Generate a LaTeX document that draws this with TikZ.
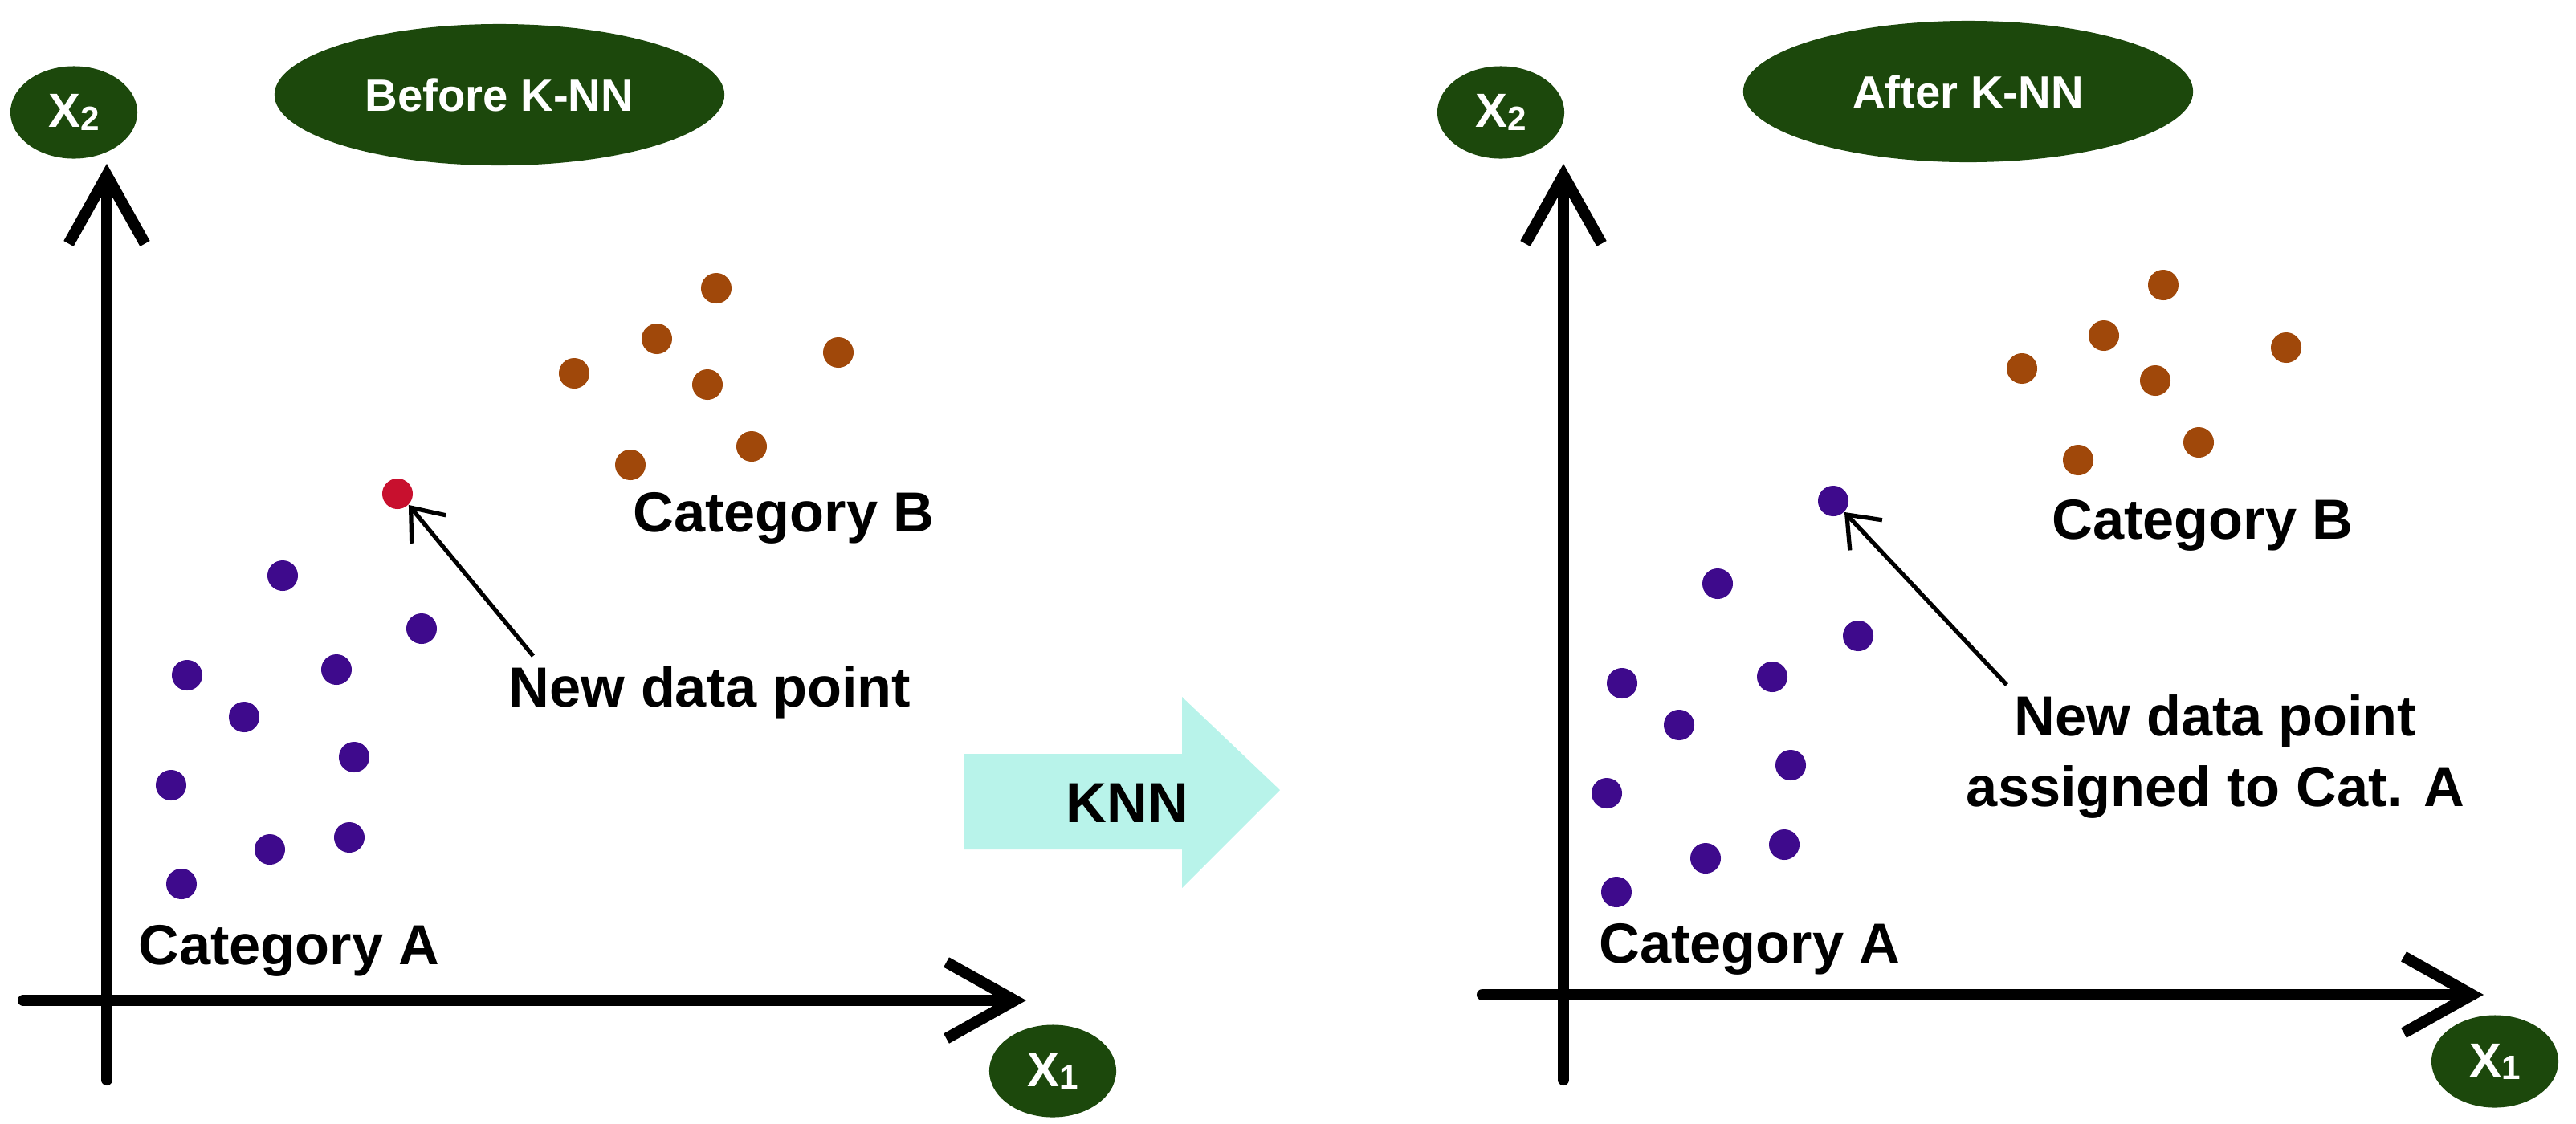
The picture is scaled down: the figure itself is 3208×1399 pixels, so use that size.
\documentclass[tikz,border=0pt]{standalone}
\usepackage{fontspec}
\setmainfont{Liberation Sans}
\usetikzlibrary{shapes.geometric,arrows.meta}
\definecolor{dg}{RGB}{28,72,12}
\definecolor{br}{RGB}{160,72,10}
\definecolor{pu}{RGB}{62,10,140}
\definecolor{rd}{RGB}{200,16,46}
\definecolor{cy}{RGB}{184,243,234}
\begin{document}
\begin{tikzpicture}[x=0.01cm,y=-0.01cm,
  lbl/.style={ellipse,fill=dg,text=white,font=\bfseries\fontsize{17}{17}\selectfont,inner sep=0pt,minimum width=1.58cm,minimum height=1.15cm},
  ttl/.style={lbl,minimum width=5.6cm,minimum height=1.76cm,font=\bfseries\fontsize{16}{16}\selectfont},
  ax/.style={line width=4pt,line cap=round,-{Straight Barb[length=8.5mm,width=9.5mm,line width=4pt]}},
  ptr/.style={line width=1.5pt,-{Straight Barb[length=3.5mm,width=5.5mm,line width=1.5pt]}},
  txt/.style={font=\bfseries\fontsize{20}{25}\selectfont,align=center},
  pA/.style={circle,fill=pu,minimum size=0.38cm,inner sep=0pt},
  pB/.style={circle,fill=br,minimum size=0.38cm,inner sep=0pt}]
\useasboundingbox (0,0) rectangle (3208,1399);
\newcommand{\xsub}[1]{X\raisebox{-0.1ex}{\fontsize{12}{12}\selectfont #1}}
% ---------- left panel
\node[lbl] (lx2) at (92,140) {\xsub{2}};
\node[ttl] (before) at (622,118) {Before K-NN};
\node[lbl] (lx1) at (1311,1334) {\xsub{1}};
\coordinate (lyb) at (133,1345); \coordinate (lyt) at (133,204);
\coordinate (lxl) at (29,1246); \coordinate (lxr) at (1278,1246);
\draw[ax] (lyb) -- (lyt);
\draw[ax] (lxl) -- (lxr);
\foreach \n/\x/\y in {1/892/359,2/818/422,3/1044/439,4/715/465,5/881/479,6/936/556,7/785/579}
  \node[pB] (lb\n) at (\x,\y) {};
\foreach \n/\x/\y in {1/352/717,2/525/783,3/233/841,4/419/834,5/304/893,6/441/943,7/213/978,8/336/1058,9/435/1043,10/226/1101}
  \node[pA] (la\n) at (\x,\y) {};
\node[circle,fill=rd,minimum size=0.38cm,inner sep=0pt] (lnew) at (495,615) {};
\node[txt] (lcb) at (976,645) {Category B};
\node[txt] (lnd) at (884,862) {New data point};
\node[txt] (lca) at (360,1184) {Category A};
\coordinate (lps) at (664,817);
\draw[ptr] (lps) -- (lnew.south east);
% ---------- KNN arrow
\fill[cy] (1200,939) -- (1472,939) -- (1472,868) -- (1594,984) -- (1472,1106) -- (1472,1058) -- (1200,1058) -- cycle;
\node[font=\bfseries\fontsize{20}{20}\selectfont] (knn) at (1404,1000) {KNN};
% ---------- right panel
\node[lbl] (rx2) at (1869,140) {\xsub{2}};
\node[ttl] (after) at (2451,114) {After K-NN};
\node[lbl] (rx1) at (3107,1322) {\xsub{1}};
\coordinate (ryb) at (1947,1345); \coordinate (ryt) at (1947,204);
\coordinate (rxl) at (1846,1239); \coordinate (rxr) at (3093,1239);
\draw[ax] (ryb) -- (ryt);
\draw[ax] (rxl) -- (rxr);
\foreach \n/\x/\y in {1/2694/355,2/2620/418,3/2847/433,4/2518/459,5/2684/474,6/2738/551,7/2588/573}
  \node[pB] (rb\n) at (\x,\y) {};
\foreach \n/\x/\y in {1/2139/727,2/2314/792,3/2020/851,4/2207/843,5/2091/903,6/2230/953,7/2001/988,8/2124/1069,9/2222/1052,10/2013/1111}
  \node[pA] (ra\n) at (\x,\y) {};
\node[pA] (rnew) at (2283,624) {};
\node[txt] (rcb) at (2743,654) {Category B};
\node[txt] (rnd) at (2759,942) {New data point\\assigned to Cat. A};
\node[txt] (rca) at (2179,1182) {Category A};
\coordinate (rps) at (2499,853);
\draw[ptr] (rps) -- (rnew.south east);
\end{tikzpicture}
\end{document}
